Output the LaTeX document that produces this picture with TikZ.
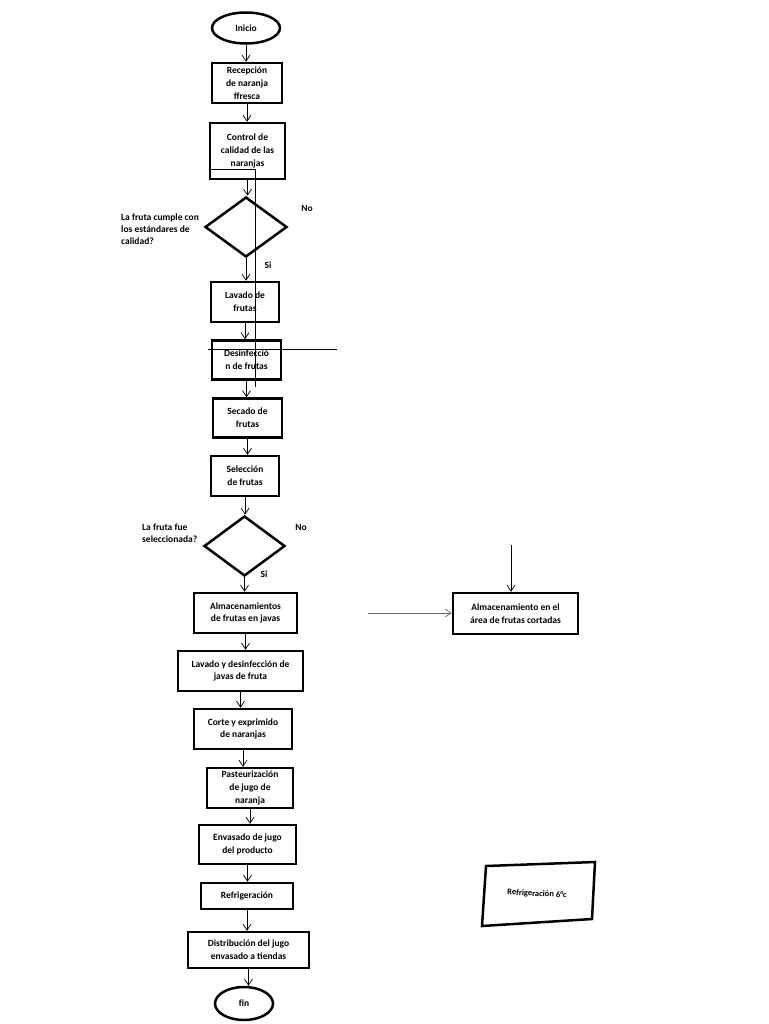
\documentclass[tikz,border=0pt]{standalone}
\usepackage{fontspec}
\setmainfont{Carlito}
\usetikzlibrary{shapes.geometric,arrows.meta}
\begin{document}
\begin{tikzpicture}[x=1pt,y=-1pt,
  txt/.style={font=\bfseries\fontsize{9.5}{12.8}\selectfont, align=center, inner sep=0pt},
  box/.style={txt, draw, line width=2.5pt, rectangle},
  term/.style={txt, draw, line width=2.5pt, ellipse},
  dec/.style={draw, line width=2.5pt, diamond, inner sep=0pt},
  lbl/.style={font=\bfseries\fontsize{9.5}{12}\selectfont, align=left, inner sep=0pt},
  arr/.style={-{Straight Barb[length=6pt,width=8pt]}, line width=0.7pt},
  thinline/.style={line width=0.8pt}
]
\useasboundingbox (0,0) rectangle (768,1024);

\node[term, minimum width=68pt, minimum height=31pt] (ini) at (246,28) {Inicio};
\node[box, minimum width=70pt, minimum height=40pt] (rec) at (247,83) {Recepción\\de naranja\\ffresca};
\node[box, minimum width=75pt, minimum height=56pt] (ctl) at (247.5,151) {Control de\\calidad de las\\naranjas};
\node[dec, minimum width=82pt, minimum height=60pt] (d1) at (246,227) {};
\node[box, minimum width=68pt, minimum height=40pt] (lav) at (245,302) {Lavado de\\frutas};
\node[box, minimum width=69pt, minimum height=39pt] (des) at (246.5,360) {Desinfecció\\n de frutas};
\node[box, minimum width=69pt, minimum height=39pt] (sec) at (247.5,418) {Secado de\\frutas};
\node[box, minimum width=68pt, minimum height=40pt] (sel) at (245,476) {Selección\\de frutas};
\node[dec, minimum width=81pt, minimum height=60pt] (d2) at (244.5,546) {};
\node[box, minimum width=103pt, minimum height=40pt] (alm) at (245.5,613) {Almacenamientos\\de frutas en javas};
\node[box, minimum width=125pt, minimum height=40pt] (ldj) at (240.5,671) {Lavado y desinfección de\\javas de fruta};
\node[box, minimum width=98pt, minimum height=40pt] (cor) at (243,729) {Corte y exprimido\\de naranjas};
\node[box, minimum width=86pt, minimum height=40pt] (pas) at (250,788) {Pasteurización\\de jugo de\\naranja};
\node[box, minimum width=97pt, minimum height=39pt] (env) at (247.5,844.5) {Envasado de jugo\\del producto};
\node[box, minimum width=92pt, minimum height=26pt] (ref) at (247,896) {Refrigeración};
\node[box, minimum width=121pt, minimum height=36pt] (dis) at (248.5,950) {Distribución del jugo\\envasado a tiendas};
\node[term, minimum width=58pt, minimum height=33pt] (fin) at (244,1003.5) {fin};
\node[box, minimum width=125pt, minimum height=41pt] (amc) at (515.5,613.5) {Almacenamiento en el\\área de frutas cortadas};

% labels
\node[lbl, anchor=west] (q1) at (121,229) {La fruta cumple con\\los estándares de\\calidad?};
\node[lbl, anchor=west] (q2) at (142,533) {La fruta fue\\seleccionada?};
\node[lbl] (no1) at (307,208) {No};
\node[lbl] (si1) at (268,265) {Si};
\node[lbl] (no2) at (301,527) {No};
\node[lbl] (si2) at (264,574) {Si};

% arrows
\foreach \a/\b in {ini/rec, rec/ctl, ctl/d1, d1/lav, lav/des, des/sec, sec/sel, sel/d2, d2/alm, alm/ldj, ldj/cor, cor/pas, pas/env, env/ref, ref/dis, dis/fin}
  \draw[arr] (\a.south) -- (\a.south |- \b.north);

% stray thin lines
\coordinate (t1) at (209,169);
\coordinate (t2) at (255,169);
\coordinate (t3) at (255,387);
\coordinate (t4) at (208,349);
\coordinate (t5) at (337,349);
\draw[thinline] (t1) -- (t2) -- (t3);
\draw[thinline] (t4) -- (t5);

% right side arrows
\coordinate (g1) at (368,613);
\coordinate (g2) at (511,545);
\draw[arr, draw=black!60] (g1) -- (g1 -| amc.west);
\draw[arr] (g2) -- (g2 |- amc.north);

% refrigeration quadrilateral
\coordinate (p1) at (486,866);
\coordinate (p2) at (595,862);
\coordinate (p3) at (592,919);
\coordinate (p4) at (482,926);
\draw[line width=2.5pt, line join=miter] (p1) -- (p2) -- (p3) -- (p4) -- cycle;
\node[lbl, font=\bfseries\fontsize{8.5}{10}\selectfont, rotate=-3] (r6) at (537,894) {Refrigeración 6°c};
\end{tikzpicture}
\end{document}
